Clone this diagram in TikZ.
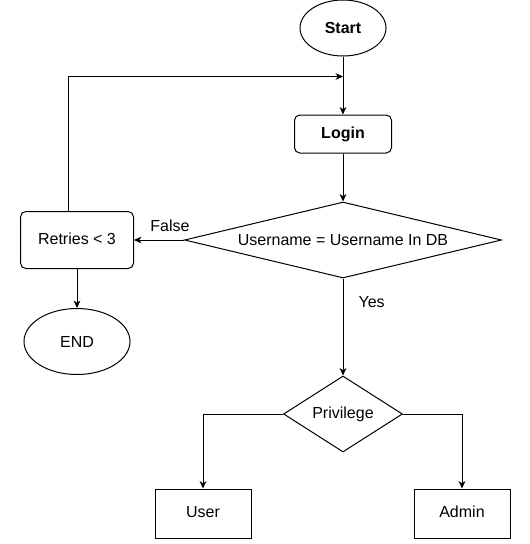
\documentclass[tikz,border=0pt]{standalone}
\usepackage{fontspec}
\setmainfont{Liberation Sans}
\usetikzlibrary{positioning,arrows.meta,shapes.geometric}

\begin{document}
\begin{tikzpicture}[
    >={Stealth[length=5.5pt,width=5pt,inset=1.5pt]},
    line width=0.75pt,
    font=\fontsize{12pt}{14pt}\selectfont,
    terminal/.style={
        draw,
        ellipse,
        inner sep=0pt,
        align=center
    },
    box/.style={
        draw,
        inner sep=0pt,
        text height=8.6pt,
        text depth=2.5pt,
        minimum width=72pt,
        minimum height=36.75pt,
        align=center
    },
    roundbox/.style={
        box,
        rounded corners=4pt
    },
    decision/.style={
        draw,
        diamond,
        inner sep=0pt,
        minimum height=57pt,
        align=center
    },
    arrow/.style={->}
]

\useasboundingbox (0,0) rectangle (397.5pt,-408pt);

%------------------------------------------------
% Login
%------------------------------------------------

\node[terminal,minimum width=64.5pt,minimum height=42pt,font=\fontsize{12pt}{14pt}\selectfont\bfseries]
(start) at (257.25pt,-21pt) {Start};

\coordinate[below=15pt of start] (merge);

\node[roundbox,minimum width=72.75pt,minimum height=28.5pt,font=\fontsize{12pt}{14pt}\selectfont\bfseries,
below=43.5pt of start] (login) {Login};

\node[decision,minimum width=237.75pt,aspect=4.17,below=36pt of login] (check)
{Username = Username In DB};

\draw[arrow] (start) -- (login);
\draw[arrow] (login) -- (check);

%------------------------------------------------
% Retries
%------------------------------------------------

\node[roundbox,minimum width=84.75pt,minimum height=42.75pt,left=37.5pt of check] (retries)
{Retries < 3};

\node[terminal,minimum width=79.5pt,minimum height=49.5pt,below=29.25pt of retries] (end)
{END};

\draw[arrow] (check) -- node[above,pos=0.28,yshift=2.5pt] {False} (retries);
\draw[arrow] (retries) -- (end);
\draw[arrow] ([xshift=-6.75pt]retries.north) |- (merge);

%------------------------------------------------
% Privilege
%------------------------------------------------

\node[decision,minimum width=89.25pt,aspect=1.57,below=72.75pt of check] (priv)
{Privilege};

\node[box,below=27pt of priv,xshift=-105pt] (user) {User};
\node[box,below=27pt of priv,xshift=89.25pt] (admin) {Admin};

\draw[arrow] (check) -- node[right,pos=0.24,xshift=8pt] {Yes} (priv);
\draw[arrow] (priv.west) -| (user.north);
\draw[arrow] (priv.east) -| (admin.north);

\end{tikzpicture}
\end{document}
